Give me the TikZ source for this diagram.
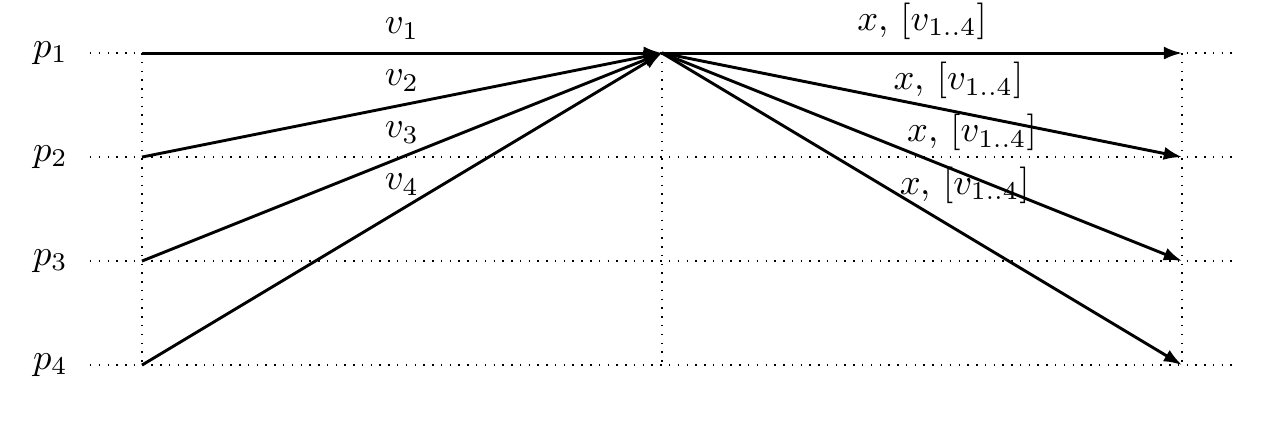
\documentclass[tikz,border=0pt]{standalone}
\usepackage{tikz}
\usetikzlibrary{arrows.meta, positioning}

\begin{document}
\begin{tikzpicture}[
        >={Latex[length=5pt, width=3.6pt]},
        grid/.style={dotted, thin},
        msg/.style={->, thick},
    ]

    \useasboundingbox (-1.365, 0.51) rectangle (10.98, -3.548);

    % ---- Process rows ----
    \foreach \i in {1,...,4} {
        \draw[grid] (-0.5, 1-\i) -- (10.5, 1-\i);
        \node (p\i) at (-0.88, 1-\i) {$p_{\i}$};
        \coordinate (a\i) at (0, 1-\i);
        \coordinate (b\i) at (10, 1-\i);
    }
    \coordinate (c) at (5, 0);
    \coordinate (cend) at (5, -3);

    % ---- Round boundaries ----
    \draw[grid] (a1) -- (a4);
    \draw[grid] (c) -- (cend);
    \draw[grid] (b1) -- (b4);

    % ---- Values sent to p1 ----
    \draw[msg] (a1) -- node[above] (v1) {$v_1$} (c);
    \draw[msg] (a2) -- node[above] (v2) {$v_2$} (c);
    \draw[msg] (a3) -- node[above] (v3) {$v_3$} (c);
    \draw[msg] (a4) -- node[above] (v4) {$v_4$} (c);

    % ---- Decision broadcast ----
    \draw[msg] (c) -- node[above] (x1) {$x$, $[v_{1..4}]$} (b1);
    \draw[msg] (c) -- node[pos=0.57, above] (x2) {$x$, $[v_{1..4}]$} (b2);
    \draw[msg] (c) -- node[pos=0.596, above=3.4pt] (x3) {$x$, $[v_{1..4}]$} (b3);
    \draw[msg] (c) -- node[pos=0.582, above=4.8pt] (x4) {$x$, $[v_{1..4}]$} (b4);

\end{tikzpicture}
\end{document}
